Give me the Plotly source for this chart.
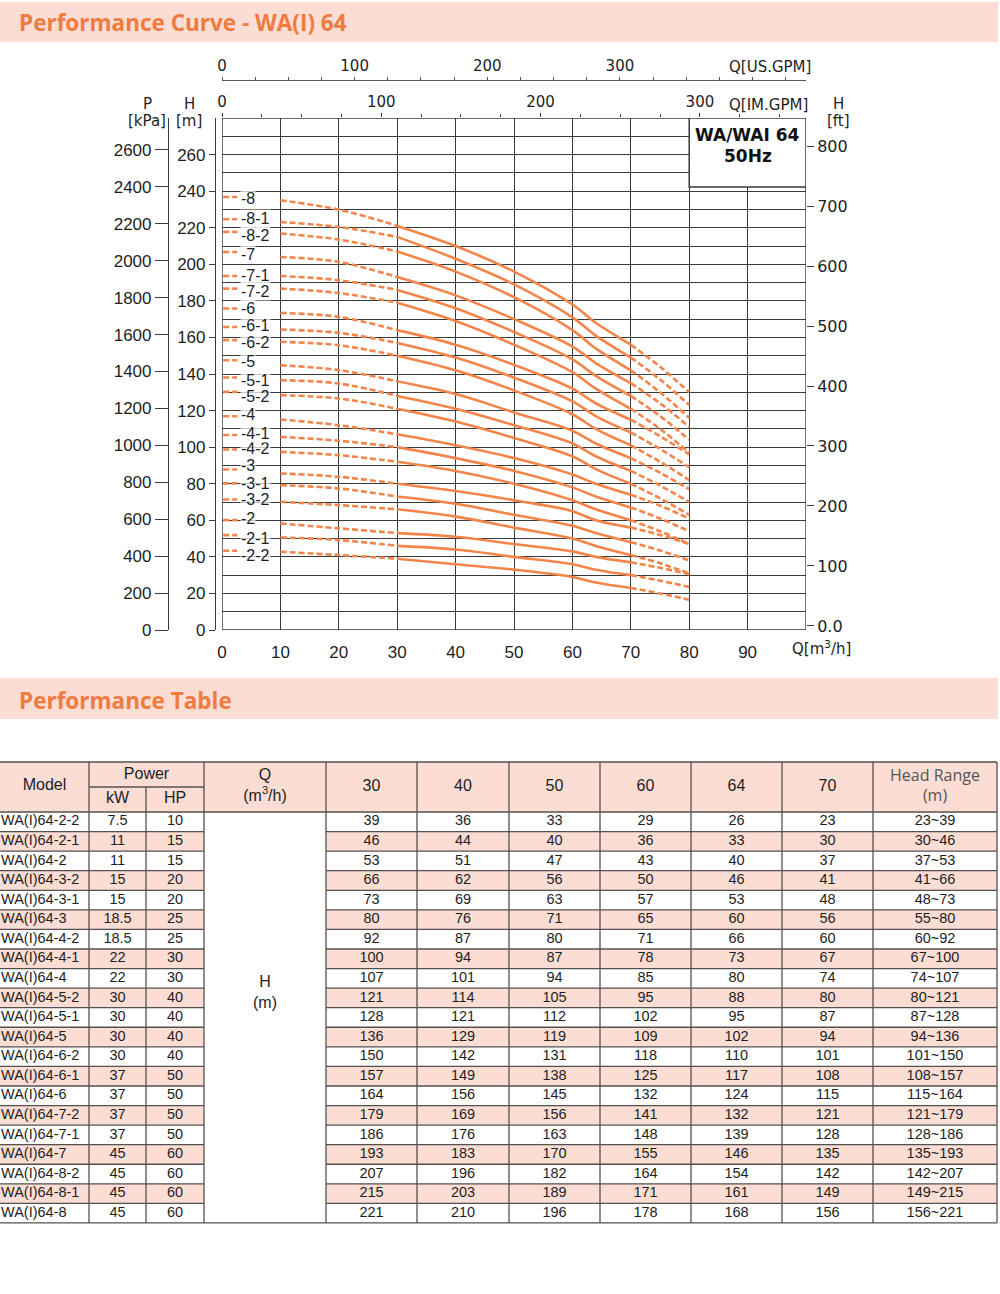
import plotly.graph_objects as go

# ---------------- data ----------------
MODELS = ["WA(I)64-2-2", "WA(I)64-2-1", "WA(I)64-2", "WA(I)64-3-2", "WA(I)64-3-1", "WA(I)64-3",
          "WA(I)64-4-2", "WA(I)64-4-1", "WA(I)64-4", "WA(I)64-5-2", "WA(I)64-5-1", "WA(I)64-5",
          "WA(I)64-6-2", "WA(I)64-6-1", "WA(I)64-6", "WA(I)64-7-2", "WA(I)64-7-1", "WA(I)64-7",
          "WA(I)64-8-2", "WA(I)64-8-1", "WA(I)64-8"]
CURVE_LABELS = ["-2-2", "-2-1", "-2", "-3-2", "-3-1", "-3", "-4-2", "-4-1", "-4", "-5-2", "-5-1", "-5",
                "-6-2", "-6-1", "-6", "-7-2", "-7-1", "-7", "-8-2", "-8-1", "-8"]
POWER_KW = ["7.5", "11", "11", "15", "15", "18.5", "18.5", "22", "22", "30", "30", "30",
            "30", "37", "37", "37", "37", "45", "45", "45", "45"]
POWER_HP = ["10", "15", "15", "20", "20", "25", "25", "30", "30", "40", "40", "40",
            "40", "50", "50", "50", "50", "60", "60", "60", "60"]
Q_TABLE = [30, 40, 50, 60, 64, 70]
Q_HEADERS = ["30", "40", "50", "60", "64", "70"]
H_TABLE = [
    [39, 36, 33, 29, 26, 23],
    [46, 44, 40, 36, 33, 30],
    [53, 51, 47, 43, 40, 37],
    [66, 62, 56, 50, 46, 41],
    [73, 69, 63, 57, 53, 48],
    [80, 76, 71, 65, 60, 56],
    [92, 87, 80, 71, 66, 60],
    [100, 94, 87, 78, 73, 67],
    [107, 101, 94, 85, 80, 74],
    [121, 114, 105, 95, 88, 80],
    [128, 121, 112, 102, 95, 87],
    [136, 129, 119, 109, 102, 94],
    [150, 142, 131, 118, 110, 101],
    [157, 149, 138, 125, 117, 108],
    [164, 156, 145, 132, 124, 115],
    [179, 169, 156, 141, 132, 121],
    [186, 176, 163, 148, 139, 128],
    [193, 183, 170, 155, 146, 135],
    [207, 196, 182, 164, 154, 142],
    [215, 203, 189, 171, 161, 149],
    [221, 210, 196, 178, 168, 156],
]
HEAD_RANGE = ["23~39", "30~46", "37~53", "41~66", "48~73", "55~80", "60~92", "67~100", "74~107",
              "80~121", "87~128", "94~136", "101~150", "108~157", "115~164", "121~179", "128~186",
              "135~193", "142~207", "149~215", "156~221"]

# dashed (out-of-range) parts of the curves
Q_LOW = [10, 20]
H_LOW = [
    [42.8, 41.0], [50.6, 49.2], [58.3, 55.6], [70.1, 68.3], [79.2, 77.4], [85.6, 83.8],
    [97.4, 95.6], [105.6, 103.5], [115.1, 112.0], [128.4, 126.6], [136.6, 134.8], [144.8, 142.1],
    [157.6, 155.7], [164.3, 162.5], [173.4, 171.2], [186.7, 184.3], [193.6, 191.3], [204.0, 201.3],
    [216.8, 213.5], [223.1, 220.4], [235.0, 229.9],
]
Q_HIGH = [75, 80]
H_HIGH = [
    [20, 16.5], [27, 23.5], [34, 30.5], [36.5, 31], [43.5, 38], [52, 47],
    [54, 47], [61, 54], [68, 61], [72, 63], [79, 70], [86, 77],
    [92, 82], [99, 89], [106, 96], [110, 97], [117, 104], [124, 111],
    [130, 116], [137, 123], [144, 130],
]
# head level of the small key dash and of its label next to the H axis
KEY_H = [43.3, 51.9, 60.1, 71.4, 80.2, 87.8, 98.7, 106.6, 116.9, 130.2, 138.1, 147.5,
         158.5, 165.7, 175.8, 186.7, 193.6, 206.7, 217.7, 224.6, 236.8]
LABEL_TEXT_H = [41.0, 50.1, 61.1, 71.1, 80.2, 90.2, 99.4, 107.6, 117.6, 127.6, 136.7, 146.7,
                157.3, 166.4, 175.9, 185.0, 193.8, 205.6, 215.6, 225.1, 236.1]
KEY_Q = [0.2, 2.6]

X_TICKS = list(range(0, 100, 10))
H_TICKS = list(range(0, 261, 20))
H_MINOR = list(range(10, 280, 20))
P_TICKS = list(range(0, 2601, 200))
FT_TICKS = list(range(0, 801, 100))
FT_TEXT = ["0.0"] + [str(v) for v in FT_TICKS[1:]]
GPM_TICKS = [0, 100, 200, 300]
IM_MINOR = list(range(25, 366, 25))
US_MINOR = list(range(25, 440, 25))

# ---------------- style ----------------
W, H = 1000, 1294
ORANGE = "#F3854B"
TITLE_ORANGE = "#EF7B3F"
BAND = "#FBDDD3"
PINK = "#FBDDD4"
GRID = "#3a3a3a"
TXT = "#1e1e1e"
TBL_LINE = "#555050"


def px_x(v):
    return v / W


def px_y(v):
    return 1 - v / H


fig = go.Figure()

# ---------------- curves ----------------
xs_s, ys_s, xs_d, ys_d = [], [], [], []
for i in range(len(MODELS)):
    xs_s += Q_TABLE + [None]
    ys_s += H_TABLE[i] + [None]
    xs_d += KEY_Q + [None] + Q_LOW + [Q_TABLE[0], None] + [Q_TABLE[-1]] + Q_HIGH + [None]
    ys_d += [KEY_H[i]] * 2 + [None] + H_LOW[i] + [H_TABLE[i][0], None] + [H_TABLE[i][-1]] + H_HIGH[i] + [None]

fig.add_trace(go.Scatter(x=xs_d, y=ys_d, mode="lines", line=dict(color=ORANGE, width=2.6, dash="6px,3px", shape="spline"),
                         connectgaps=False, hoverinfo="skip", xaxis="x", yaxis="y"))
fig.add_trace(go.Scatter(x=xs_s, y=ys_s, mode="lines", line=dict(color=ORANGE, width=2.6, shape="spline"),
                         connectgaps=False, hoverinfo="skip", xaxis="x", yaxis="y"))

# empty traces to register the extra axes
fig.add_trace(go.Scatter(x=[], y=[], xaxis="x2", yaxis="y", hoverinfo="skip"))
fig.add_trace(go.Scatter(x=[], y=[], xaxis="x3", yaxis="y", hoverinfo="skip"))
fig.add_trace(go.Scatter(x=[], y=[], xaxis="x", yaxis="y2", hoverinfo="skip"))
fig.add_trace(go.Scatter(x=[], y=[], xaxis="x", yaxis="y3", hoverinfo="skip"))

annotations = []
for lab, hv in zip(CURVE_LABELS, LABEL_TEXT_H):
    annotations.append(dict(x=3.1, y=hv, xref="x", yref="y", text=lab, showarrow=False, xanchor="left",
                            yanchor="middle", bgcolor="rgba(255,255,255,0.7)", borderpad=0,
                            font=dict(family="Liberation Sans", size=16, color=TXT)))

shapes = []
# plot frame
shapes.append(dict(type="rect", xref="x", yref="y", x0=0, x1=100, y0=0, y1=280,
                   line=dict(color=GRID, width=1.4), layer="above"))
# model box
shapes.append(dict(type="rect", xref="x", yref="y", x0=80, x1=100, y0=242.3, y1=280,
                   fillcolor="white", line=dict(color=GRID, width=1.5), layer="above"))
annotations.append(dict(x=90, y=270.7, xref="x", yref="y", text="<b>WA/WAI 64</b>", showarrow=False,
                        font=dict(family="DejaVu Sans", size=17, color="#111")))
annotations.append(dict(x=90, y=259.2, xref="x", yref="y", text="<b>50Hz</b>", showarrow=False,
                        font=dict(family="DejaVu Sans", size=17, color="#111")))

AXF = dict(family="DejaVu Sans", size=15, color=TXT)
for txt, xx, yy in [("P", 147, 104), ("[kPa]", 147, 121), ("H", 189, 104), ("[m]", 189, 121),
                    ("H", 838, 104), ("[ft]", 838, 121)]:
    annotations.append(dict(x=px_x(xx), y=px_y(yy), xref="paper", yref="paper", text=txt, showarrow=False,
                            xanchor="center", yanchor="middle", font=AXF))
for txt, xx, yy in [("Q[IM.GPM]", 768, 105), ("Q[US.GPM]", 770, 67)]:
    annotations.append(dict(x=px_x(xx), y=px_y(yy), xref="paper", yref="paper", text=txt, showarrow=False,
                            xanchor="center", yanchor="middle",
                            font=dict(family="DejaVu Sans", size=15, color=TXT)))
annotations.append(dict(x=px_x(821), y=px_y(648), xref="paper", yref="paper", text="Q[m<sup>3</sup>/h]",
                        showarrow=False, xanchor="center", yanchor="middle",
                        font=dict(family="DejaVu Sans", size=15, color=TXT)))

# ---------------- title bands ----------------
for (t0, t1, ttl, ty) in [(2, 42, "Performance Curve - WA(I) 64", 22), (678, 719, "Performance Table", 700)]:
    shapes.append(dict(type="rect", xref="x4", yref="y4", x0=0, x1=998, y0=t0, y1=t1,
                       fillcolor=BAND, line=dict(width=0), layer="below"))
    annotations.append(dict(x=17, y=ty, xref="x4", yref="y4", text="<b>" + ttl + "</b>", showarrow=False,
                            xanchor="left", yanchor="middle",
                            font=dict(family="Open Sans", size=22.5, color=TITLE_ORANGE)))

# ---------------- table ----------------
COL = [0, 89, 146, 204, 326, 417, 509, 600, 691, 782, 873, 997]
T_TOP, T_MID, T_HB, ROW_H = 762, 787, 812, 19.57
n = len(MODELS)
T_BOT = T_HB + n * ROW_H
row_c = [T_HB + (i + 0.5) * ROW_H for i in range(n)]

shapes.append(dict(type="rect", xref="x4", yref="y4", x0=0, x1=COL[-1], y0=T_TOP, y1=T_HB,
                   fillcolor=PINK, line=dict(width=0), layer="below"))
for i in range(n):
    if i % 2 == 1:
        r0, r1 = T_HB + i * ROW_H, T_HB + (i + 1) * ROW_H
        for a, b in [(COL[0], COL[3]), (COL[4], COL[-1])]:
            shapes.append(dict(type="rect", xref="x4", yref="y4", x0=a, x1=b, y0=r0, y1=r1,
                               fillcolor=PINK, line=dict(width=0), layer="below"))

LN = dict(color=TBL_LINE, width=1.3)


def hline(y, a, b):
    shapes.append(dict(type="line", xref="x4", yref="y4", x0=a, x1=b, y0=y, y1=y, line=LN, layer="above"))


def vline(x, a, b):
    shapes.append(dict(type="line", xref="x4", yref="y4", x0=x, x1=x, y0=a, y1=b, line=LN, layer="above"))


hline(T_TOP, COL[0], COL[-1])
hline(T_MID, COL[1], COL[3])
hline(T_HB, COL[0], COL[-1])
for k in range(1, n):
    yk = T_HB + k * ROW_H
    hline(yk, COL[0], COL[3])
    hline(yk, COL[4], COL[-1])
hline(T_BOT, COL[0], COL[-1])
vline(COL[1], T_TOP, T_BOT)
vline(COL[2], T_MID, T_BOT)
for c in COL[3:]:
    vline(c, T_TOP, T_BOT)

BODY = dict(family="Liberation Sans", size=14.5, color=TXT)
HDR = dict(family="Liberation Sans", size=16, color=TXT)


def tcenter(j):
    return (COL[j] + COL[j + 1]) / 2


def add_text(xv, yv, tv, font, pos="middle center"):
    fig.add_trace(go.Scatter(x=xv, y=yv, text=tv, mode="text", textposition=pos, textfont=font,
                             xaxis="x4", yaxis="y4", hoverinfo="skip", cliponaxis=False))


add_text([1] * n, row_c, MODELS, BODY, "middle right")
add_text([tcenter(1)] * n, row_c, POWER_KW, BODY)
add_text([tcenter(2)] * n, row_c, POWER_HP, BODY)
for j in range(len(Q_TABLE)):
    add_text([tcenter(4 + j)] * n, row_c, [str(r[j]) for r in H_TABLE], BODY)
add_text([tcenter(10)] * n, row_c, HEAD_RANGE, BODY)
add_text([tcenter(3)] * 2, [983, 1004], ["H", "(m)"], HDR)

add_text([tcenter(0)], [786], ["Model"], HDR)
add_text([(COL[1] + COL[3]) / 2], [775], ["Power"], HDR)
add_text([tcenter(1), tcenter(2)], [799, 799], ["kW", "HP"], HDR)
add_text([tcenter(3)] * 2, [776, 797], ["Q", "(m<sup>3</sup>/h)"], HDR)
add_text([tcenter(4 + j) for j in range(6)], [787] * 6, Q_HEADERS, HDR)
add_text([tcenter(10)] * 2, [777, 797], ["Head Range", "(m)"], dict(family="Open Sans", size=16, color="#555"))

# ---------------- layout ----------------
y_dom = [px_y(630), px_y(118)]
x_dom = [px_x(222), px_x(806)]
TICKF = dict(family="Liberation Sans", size=17, color=TXT)

fig.update_layout(
    template="none",
    width=W, height=H, margin=dict(l=0, r=0, t=0, b=0, pad=0), autosize=False,
    paper_bgcolor="white", plot_bgcolor="rgba(0,0,0,0)", showlegend=False, hovermode=False,
    xaxis=dict(domain=x_dom, range=[0, 100], tickmode="array", tickvals=X_TICKS, showgrid=True,
               gridcolor=GRID, gridwidth=1.2, zeroline=False, showline=False, ticks="outside", ticklen=7,
               tickcolor="rgba(0,0,0,0)", tickfont=TICKF, anchor="y", fixedrange=True, automargin=False),
    yaxis=dict(domain=y_dom, range=[0, 280], tickmode="array", tickvals=H_TICKS, showgrid=True,
               gridcolor=GRID, gridwidth=1.2,
               minor=dict(tickvals=H_MINOR, showgrid=True, gridcolor=GRID, gridwidth=1.2, ticks=""),
               zeroline=False, showline=True, linecolor=GRID, linewidth=1.2, ticks="outside", ticklen=6,
               tickcolor=GRID, anchor="free", position=px_x(215), tickfont=TICKF, fixedrange=True,
               automargin=False),
    yaxis2=dict(overlaying="y", anchor="free", position=px_x(168), side="left", range=[0, 2773],
                tickmode="array", tickvals=P_TICKS, showgrid=False, zeroline=False, showline=True,
                linecolor=GRID, linewidth=1.2, ticks="outside", ticklen=13, tickcolor=GRID,
                tickfont=TICKF, fixedrange=True, automargin=False),
    yaxis3=dict(overlaying="y", anchor="free", position=px_x(806), side="right", range=[-6.7, 846.7],
                tickmode="array", tickvals=FT_TICKS, ticktext=FT_TEXT, showgrid=False, zeroline=False,
                showline=False, ticks="outside", ticklen=7, tickcolor=GRID,
                tickfont=dict(family="DejaVu Sans", size=16, color=TXT), fixedrange=True, automargin=False),
    xaxis2=dict(overlaying="x", side="top", anchor="y", range=[0, 366.6], tickmode="array",
                tickvals=GPM_TICKS, showgrid=False, zeroline=False, showline=False, ticks="outside",
                ticklen=4, tickcolor=GRID, minor=dict(tickvals=IM_MINOR, ticks="outside", ticklen=3, tickcolor=GRID),
                tickfont=dict(family="DejaVu Sans", size=15, color=TXT), fixedrange=True, automargin=False),
    xaxis3=dict(overlaying="x", side="top", anchor="free", position=px_y(80), range=[0, 440.3],
                tickmode="array", tickvals=GPM_TICKS, showgrid=False, zeroline=False, showline=True,
                linecolor="#555", linewidth=1.3, ticks="outside", ticklen=3, tickcolor="#555",
                minor=dict(tickvals=US_MINOR, ticks="outside", ticklen=3, tickcolor="#555"),
                tickfont=dict(family="DejaVu Sans", size=15, color=TXT), fixedrange=True, automargin=False),
    xaxis4=dict(domain=[0, 1], range=[0, W], visible=False, anchor="y4", fixedrange=True, automargin=False),
    yaxis4=dict(domain=[0, 1], range=[H, 0], visible=False, anchor="x4", fixedrange=True, automargin=False),
    shapes=shapes, annotations=annotations,
)

fig.write_html("out.html", config={"displayModeBar": False},
               post_script="document.body.style.margin='0px';document.body.style.overflow='hidden';")
